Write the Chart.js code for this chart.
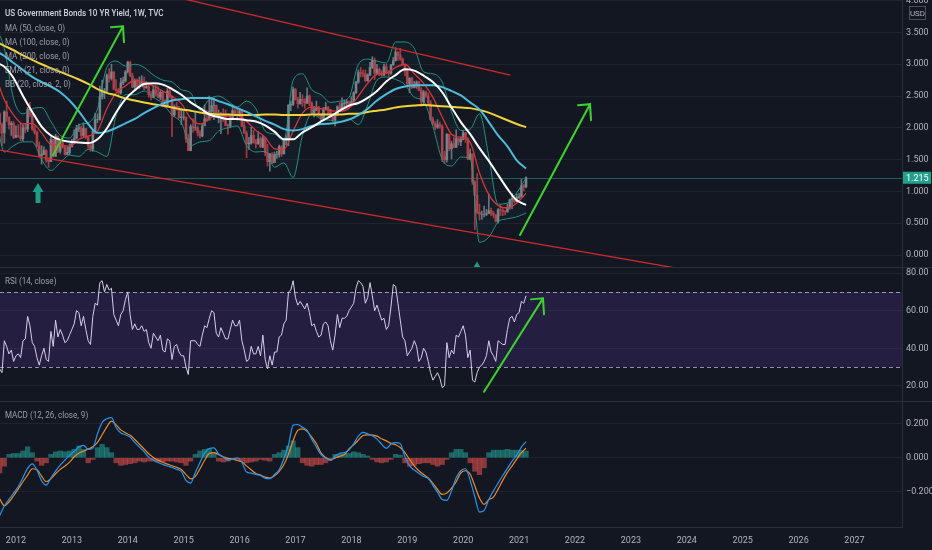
<!DOCTYPE html>
<html>
<head>
<meta charset="utf-8">
<script src="https://cdn.jsdelivr.net/npm/chart.js@4.4.1/dist/chart.umd.min.js"></script>
<style>
  html, body { margin: 0; padding: 0; background: #131722; }
  #wrap { width: 932px; height: 550px; }
</style>
</head>
<body>
<div id="wrap"><canvas id="chartYield" width="932" height="550"></canvas></div>
<script>
// semi-monthly candles, first one mid-Sep 2011
const firstBar = 2011.708;
const halfMonth = 1 / 24;
const prevClose = 2.22;
const closes = [
  2.05, 1.92, 2.25, 2.17, 2.05, 2.07, 1.85, 1.88,
  1.87, 1.83, 2.00, 1.98, 2.29, 2.21, 1.98, 1.93, 1.72, 1.56, 1.58, 1.64, 1.49, 1.47, 1.82, 1.55, 1.87, 1.63, 1.77, 1.69, 1.58, 1.61, 1.70, 1.76,
  1.84, 1.99, 2.00, 1.88, 1.99, 1.85, 1.72, 1.67, 1.95, 2.13, 2.13, 2.49, 2.58, 2.58, 2.83, 2.78, 2.88, 2.61, 2.58, 2.55, 2.71, 2.74, 2.88, 3.03,
  2.82, 2.64, 2.74, 2.65, 2.65, 2.72, 2.63, 2.65, 2.52, 2.48, 2.60, 2.53, 2.48, 2.56, 2.34, 2.34, 2.58, 2.49, 2.20, 2.34, 2.32, 2.16, 2.17, 2.17,
  1.83, 1.64, 2.02, 2.00, 2.00, 1.92, 1.87, 2.03, 2.14, 2.12, 2.26, 2.35, 2.35, 2.18, 2.20, 2.21, 2.13, 2.04, 2.03, 2.14, 2.27, 2.21, 2.20, 2.27,
  2.03, 1.92, 1.75, 1.76, 1.88, 1.77, 1.75, 1.83, 1.70, 1.84, 1.61, 1.47, 1.59, 1.45, 1.58, 1.58, 1.70, 1.59, 1.80, 1.83, 2.36, 2.37, 2.60, 2.44,
  2.38, 2.45, 2.42, 2.39, 2.50, 2.39, 2.24, 2.28, 2.32, 2.20, 2.15, 2.30, 2.32, 2.29, 2.19, 2.12, 2.20, 2.33, 2.28, 2.38, 2.39, 2.41, 2.35, 2.41,
  2.55, 2.72, 2.87, 2.86, 2.85, 2.74, 2.83, 2.95, 3.06, 2.86, 2.92, 2.86, 2.83, 2.96, 2.87, 2.86, 2.99, 3.06, 3.19, 3.14, 3.08, 2.99, 2.89, 2.69,
  2.78, 2.63, 2.66, 2.72, 2.59, 2.41, 2.56, 2.50, 2.39, 2.13, 2.07, 2.01, 2.05, 2.02, 1.55, 1.50, 1.90, 1.67, 1.75, 1.69, 1.83, 1.78, 1.82, 1.92,
  1.84, 1.51, 1.59, 1.15, 0.94, 0.67, 0.64, 0.64, 0.64, 0.65, 0.70, 0.66, 0.63, 0.53, 0.71, 0.70, 0.69, 0.68, 0.75, 0.87, 0.89, 0.84, 0.90, 0.92,
  1.09, 1.07, 1.215
];
const highs = [
  2.24, 2.08, 2.27, 2.42, 2.17, 2.10, 2.10, 2.03,
  2.05, 2.08, 2.05, 2.07, 2.32, 2.40, 2.27, 2.03, 1.95, 1.78, 1.72, 1.70, 1.66, 1.53, 1.86, 1.82, 1.90, 1.87, 1.79, 1.86, 1.72, 1.70, 1.75, 1.82,
  1.97, 2.04, 2.06, 2.03, 2.08, 1.99, 1.87, 1.74, 1.97, 2.23, 2.22, 2.66, 2.75, 2.62, 2.85, 2.93, 3.00, 2.88, 2.76, 2.62, 2.78, 2.80, 2.90, 3.05,
  3.05, 2.86, 2.77, 2.77, 2.80, 2.82, 2.80, 2.73, 2.68, 2.57, 2.66, 2.67, 2.65, 2.59, 2.58, 2.44, 2.62, 2.64, 2.50, 2.36, 2.40, 2.34, 2.31, 2.28,
  2.17, 1.90, 2.05, 2.14, 2.25, 2.03, 1.96, 2.07, 2.36, 2.27, 2.50, 2.48, 2.47, 2.36, 2.28, 2.24, 2.30, 2.28, 2.06, 2.21, 2.36, 2.30, 2.32, 2.31,
  2.27, 2.10, 1.95, 1.85, 2.01, 1.96, 1.82, 1.94, 1.86, 1.88, 1.85, 1.74, 1.60, 1.61, 1.62, 1.63, 1.73, 1.72, 1.82, 1.88, 2.36, 2.42, 2.64, 2.62,
  2.48, 2.56, 2.52, 2.46, 2.63, 2.52, 2.41, 2.34, 2.42, 2.34, 2.22, 2.32, 2.40, 2.34, 2.29, 2.22, 2.23, 2.35, 2.40, 2.47, 2.44, 2.44, 2.42, 2.49,
  2.57, 2.73, 2.91, 2.95, 2.91, 2.91, 2.85, 3.03, 3.12, 3.10, 3.00, 2.94, 2.90, 3.00, 3.00, 2.90, 3.00, 3.11, 3.26, 3.20, 3.25, 3.10, 3.00, 2.90,
  2.79, 2.80, 2.73, 2.74, 2.73, 2.63, 2.59, 2.58, 2.55, 2.43, 2.17, 2.10, 2.13, 2.09, 2.05, 1.63, 1.91, 1.90, 1.79, 1.86, 1.97, 1.84, 1.86, 1.95,
  1.93, 1.84, 1.67, 1.59, 1.17, 1.28, 0.80, 0.69, 0.77, 0.72, 0.96, 0.74, 0.69, 0.64, 0.73, 0.79, 0.73, 0.70, 0.80, 0.88, 0.97, 0.91, 0.96, 0.97,
  1.19, 1.11, 1.23
];
const lows = [
  1.91, 1.72, 1.76, 2.10, 1.98, 1.88, 1.83, 1.85,
  1.85, 1.80, 1.80, 1.92, 1.94, 2.17, 1.96, 1.90, 1.70, 1.54, 1.43, 1.58, 1.46, 1.38, 1.47, 1.54, 1.55, 1.61, 1.60, 1.68, 1.57, 1.58, 1.58, 1.70,
  1.82, 1.82, 1.94, 1.85, 1.86, 1.83, 1.68, 1.63, 1.63, 1.93, 2.08, 2.12, 2.45, 2.46, 2.56, 2.72, 2.75, 2.60, 2.58, 2.48, 2.53, 2.68, 2.72, 2.86,
  2.80, 2.63, 2.58, 2.63, 2.62, 2.65, 2.60, 2.62, 2.48, 2.44, 2.47, 2.50, 2.47, 2.44, 2.33, 2.32, 2.33, 2.47, 1.86, 2.18, 2.28, 2.15, 2.05, 2.12,
  1.77, 1.64, 1.64, 1.93, 1.96, 1.87, 1.84, 1.86, 2.10, 2.10, 2.25, 2.24, 2.13, 2.16, 2.08, 1.91, 2.10, 2.03, 1.90, 2.00, 2.13, 2.20, 2.12, 2.17,
  2.02, 1.91, 1.53, 1.66, 1.74, 1.76, 1.68, 1.74, 1.69, 1.69, 1.56, 1.40, 1.32, 1.44, 1.48, 1.52, 1.54, 1.55, 1.59, 1.73, 1.72, 2.27, 2.35, 2.44,
  2.31, 2.37, 2.34, 2.31, 2.38, 2.35, 2.21, 2.17, 2.27, 2.18, 2.10, 2.12, 2.28, 2.22, 2.17, 2.10, 2.03, 2.19, 2.27, 2.28, 2.31, 2.31, 2.33, 2.34,
  2.40, 2.54, 2.70, 2.80, 2.80, 2.73, 2.73, 2.82, 2.93, 2.76, 2.85, 2.82, 2.81, 2.82, 2.85, 2.81, 2.84, 2.98, 3.05, 3.06, 3.06, 2.99, 2.82, 2.68,
  2.55, 2.62, 2.63, 2.62, 2.58, 2.34, 2.38, 2.48, 2.37, 2.12, 2.05, 1.97, 1.99, 1.99, 1.47, 1.44, 1.46, 1.64, 1.51, 1.69, 1.70, 1.73, 1.72, 1.81,
  1.77, 1.50, 1.50, 1.11, 0.40, 0.65, 0.55, 0.56, 0.60, 0.62, 0.65, 0.62, 0.59, 0.52, 0.50, 0.62, 0.62, 0.63, 0.67, 0.72, 0.73, 0.82, 0.84, 0.89,
  0.91, 1.01, 1.06
];
const rsi14 = [
  29, 27, 44, 41, 37, 39, 33, 36,
  37, 35, 44, 45, 57, 52, 43, 41, 35, 31, 36, 40, 34, 33, 49, 41, 55, 46, 50, 47, 43, 44, 47, 50,
  53, 60, 59, 52, 57, 50, 44, 42, 57, 64, 63, 75, 76, 70, 74, 71, 72, 58, 55, 52, 58, 60, 66, 70,
  58, 50, 53, 50, 50, 52, 49, 50, 43, 40, 48, 46, 44, 47, 39, 38, 45, 44, 34, 41, 42, 38, 36, 36,
  30, 26, 44, 44, 44, 42, 41, 47, 52, 51, 56, 60, 59, 48, 46, 51, 48, 45, 45, 50, 55, 52, 52, 55,
  44, 39, 33, 34, 41, 37, 37, 41, 36, 47, 34, 29, 36, 31, 38, 38, 46, 47, 53, 55, 70, 71, 76, 67,
  63, 65, 63, 61, 64, 59, 52, 53, 49, 46, 47, 53, 54, 52, 44, 39, 47, 58, 51, 56, 56, 57, 60, 62,
  64, 72, 76, 75, 73, 64, 67, 75, 68, 60, 63, 59, 55, 56, 50, 52, 62, 74, 73, 64, 55, 46, 44, 36,
  38, 40, 44, 41, 33, 35, 40, 38, 33, 27, 23, 25, 27, 24, 19, 20, 43, 35, 39, 37, 47, 46, 49, 52,
  47, 35, 39, 23, 22, 27, 30, 31, 33, 36, 44, 38, 36, 33, 44, 43, 42, 42, 50, 56, 57, 54, 58, 59,
  65, 64, 68
];

// moving averages and bands, every two months from mid-Aug 2011
const smoothStart = 2011.625;
const twoMonths = 1 / 6;
const ma50 = [3.03, 2.96, 2.78, 2.50, 2.25, 2.02, 1.88, 1.81, 1.78, 1.77, 1.76, 1.82, 1.99, 2.24, 2.45, 2.59, 2.69, 2.70, 2.68, 2.61,
  2.52, 2.40, 2.31, 2.21, 2.17, 2.14, 2.14, 2.12, 2.10, 2.04, 1.94, 1.82, 1.82, 1.93, 2.01, 2.10, 2.18, 2.27, 2.35, 2.39,
  2.47, 2.58, 2.73, 2.83, 2.92, 2.90, 2.82, 2.72, 2.56, 2.32, 2.09, 1.90, 1.68, 1.48, 1.26, 1.04, 0.86, 0.79];
const ma100 = [3.22, 3.13, 3.02, 2.91, 2.80, 2.72, 2.65, 2.56, 2.43, 2.26, 2.06, 1.92, 1.94, 2.00, 2.07, 2.14, 2.23, 2.31, 2.38, 2.43,
  2.45, 2.47, 2.47, 2.47, 2.42, 2.37, 2.31, 2.25, 2.18, 2.11, 2.05, 1.98, 1.96, 1.98, 2.03, 2.06, 2.07, 2.09, 2.13, 2.20,
  2.30, 2.43, 2.53, 2.61, 2.65, 2.67, 2.67, 2.67, 2.64, 2.58, 2.51, 2.40, 2.29, 2.09, 1.88, 1.71, 1.49, 1.36];
const ma200 = [3.36, 3.29, 3.22, 3.14, 3.07, 3.00, 2.94, 2.88, 2.82, 2.76, 2.69, 2.61, 2.55, 2.51, 2.46, 2.43, 2.40, 2.37, 2.35, 2.32,
  2.29, 2.27, 2.24, 2.22, 2.21, 2.21, 2.20, 2.20, 2.20, 2.21, 2.21, 2.20, 2.20, 2.20, 2.21, 2.21, 2.21, 2.21, 2.22, 2.22,
  2.25, 2.27, 2.29, 2.32, 2.34, 2.35, 2.36, 2.35, 2.34, 2.33, 2.32, 2.31, 2.28, 2.24, 2.18, 2.12, 2.06, 2.01];
const ema21 = [2.85, 2.44, 2.20, 2.06, 2.07, 1.92, 1.74, 1.73, 1.71, 1.82, 1.87, 1.95, 2.30, 2.55, 2.66, 2.75, 2.72, 2.66, 2.58, 2.50,
  2.38, 2.15, 2.06, 2.14, 2.22, 2.18, 2.20, 2.10, 1.96, 1.85, 1.67, 1.66, 1.95, 2.23, 2.33, 2.30, 2.27, 2.26, 2.31, 2.50,
  2.70, 2.84, 2.86, 2.95, 3.00, 2.85, 2.70, 2.48, 2.17, 1.90, 1.85, 1.77, 1.29, 0.95, 0.78, 0.74, 0.82, 0.97];
const bbUpper = [3.60, 3.25, 2.45, 2.22, 2.30, 2.32, 2.10, 1.88, 1.84, 2.05, 2.08, 2.30, 2.95, 3.05, 2.97, 3.00, 2.95, 2.83, 2.75, 2.72,
  2.60, 2.55, 2.28, 2.45, 2.50, 2.42, 2.33, 2.42, 2.30, 1.95, 1.90, 1.80, 2.75, 2.85, 2.60, 2.52, 2.40, 2.42, 2.48, 3.00,
  3.08, 3.05, 3.02, 3.35, 3.35, 3.25, 2.88, 2.85, 2.72, 2.25, 1.96, 1.98, 2.22, 1.55, 0.80, 0.82, 0.98, 1.21];
const bbLower = [2.30, 1.62, 1.72, 1.78, 1.78, 1.50, 1.33, 1.45, 1.57, 1.55, 1.66, 1.62, 1.55, 2.20, 2.52, 2.52, 2.58, 2.48, 2.38, 2.20,
  2.08, 1.72, 1.78, 1.80, 1.95, 2.00, 2.03, 1.72, 1.62, 1.63, 1.38, 1.45, 1.22, 1.88, 2.22, 2.14, 2.12, 2.10, 2.14, 2.05,
  2.36, 2.75, 2.80, 2.76, 2.68, 2.48, 2.42, 2.02, 1.50, 1.40, 1.54, 1.52, 0.20, 0.28, 0.52, 0.57, 0.60, 0.66];

// MACD, monthly from mid-Sep 2011
const macdStart = 2011.708;
const oneMonth = 1 / 12;
const macdLine = [-0.343, -0.286, -0.247, -0.209, -0.170, -0.118, -0.063, -0.036, -0.073, -0.136,
  -0.162, -0.120, -0.079, -0.044, -0.014, 0.014, 0.039, 0.063, 0.073, 0.049,
  0.057, 0.142, 0.209, 0.231, 0.238, 0.179, 0.146, 0.136, 0.122, 0.091,
  0.063, 0.036, 0.004, -0.014, -0.028, -0.039, -0.049, -0.057, -0.069, -0.081,
  -0.134, -0.150, -0.087, -0.028, 0.027, 0.055, 0.059, 0.022, 0.004, -0.014,
  -0.008, 0.000, -0.028, -0.085, -0.091, -0.099, -0.105, -0.122, -0.124, -0.099,
  -0.071, -0.006, 0.077, 0.193, 0.197, 0.181, 0.162, 0.110, 0.063, 0.018,
  -0.002, -0.016, 0.010, 0.026, 0.031, 0.047, 0.083, 0.128, 0.150, 0.142,
  0.130, 0.110, 0.081, 0.055, 0.081, 0.089, 0.083, 0.006, -0.048, -0.073,
  -0.093, -0.111, -0.122, -0.164, -0.205, -0.247, -0.252, -0.196, -0.118, -0.077,
  -0.065, -0.134, -0.231, -0.322, -0.312, -0.247, -0.196, -0.150, -0.105, -0.063,
  -0.020, 0.016, 0.063, 0.095];
const signalLine = [-0.243, -0.284, -0.262, -0.225, -0.184, -0.142, -0.103, -0.065, -0.071, -0.109,
  -0.142, -0.124, -0.095, -0.069, -0.049, -0.026, 0.006, 0.027, 0.039, 0.051,
  0.065, 0.091, 0.136, 0.183, 0.217, 0.195, 0.165, 0.148, 0.133, 0.108,
  0.080, 0.052, 0.024, 0.002, -0.014, -0.027, -0.038, -0.047, -0.057, -0.070,
  -0.100, -0.125, -0.110, -0.065, -0.015, 0.025, 0.030, 0.018, 0.006, -0.004,
  -0.008, -0.016, -0.024, -0.048, -0.071, -0.093, -0.103, -0.115, -0.120, -0.107,
  -0.081, -0.041, 0.020, 0.102, 0.162, 0.171, 0.156, 0.122, 0.083, 0.027,
  0.002, -0.012, -0.002, 0.008, 0.020, 0.053, 0.077, 0.104, 0.132, 0.136,
  0.134, 0.128, 0.112, 0.100, 0.085, 0.077, 0.061, 0.030, -0.010, -0.048,
  -0.077, -0.099, -0.120, -0.152, -0.188, -0.217, -0.209, -0.180, -0.142, -0.089,
  -0.077, -0.097, -0.166, -0.239, -0.276, -0.249, -0.233, -0.186, -0.134, -0.087,
  -0.048, -0.008, 0.030, 0.057];
const macdHist = [-0.09, -0.05, 0.02, 0.025, 0.025, 0.04, 0.065, 0.03, -0.02, -0.045,
  -0.03, 0.02, 0.035, 0.04, 0.035, 0.04, 0.05, 0.07, 0.05, -0.03,
  -0.01, 0.06, 0.08, 0.06, 0.03, -0.03, -0.045, -0.04, -0.035, -0.03,
  -0.02, -0.025, -0.02, -0.02, -0.025, -0.025, -0.02, -0.02, -0.025, -0.03,
  -0.045, -0.02, 0.02, 0.04, 0.05, 0.055, 0.03, -0.02, -0.025, -0.02,
  -0.01, -0.015, -0.02, -0.03, -0.025, -0.02, -0.01, -0.015, -0.02, 0.02,
  0.03, 0.045, 0.07, 0.1, 0.06, -0.03, -0.045, -0.05, -0.04, -0.04,
  -0.03, -0.015, 0.02, 0.02, 0.025, 0.025, 0.035, 0.03, 0.02, 0.01,
  -0.01, -0.025, -0.03, -0.025, -0.01, 0.02, 0.015, -0.03, -0.05, -0.045,
  -0.035, -0.03, -0.03, -0.04, -0.05, -0.04, -0.01, 0.03, 0.05, 0.05,
  0.03, -0.03, -0.08, -0.1, -0.06, 0.03, 0.045, 0.045, 0.045, 0.05,
  0.045, 0.045, 0.045, 0.04];

const yearTicks = [2012, 2013, 2014, 2015, 2016, 2017, 2018, 2019, 2020, 2021, 2022, 2023, 2024, 2025, 2026, 2027];
const priceTicks = [0, 0.5, 1, 1.5, 2, 2.5, 3, 3.5, 4];
const rsiTicks = [20, 40, 60, 80];
const macdTicks = [-0.2, 0, 0.2];
const rsiBand = [30, 70];

// drawings on the chart, in (year, value)
const upperChannel = [[2014.0, 4.233], [2020.84, 2.827]];
const lowerChannel = [[2011.714, 1.649], [2024.5, -0.311]];
const greenArrows = [
  { pane: 'price', from: [2012.662, 1.571], to: [2013.914, 3.597] },
  { pane: 'price', from: [2021.016, 0.314], to: [2022.269, 2.372] },
  { pane: 'rsi', from: [2020.373, 16.8], to: [2021.428, 66.6] }
];
const lowMarker = [2012.394, 0.817];
const lowTriangle = [2020.247, -0.157];

const legendLines = ['MA (50, close, 0)', 'MA (100, close, 0)', 'MA (200, close, 0)', 'EMA (21, close, 0)', 'BB (20, close, 2, 0)'];

const opens = closes.map((c, i) => i ? closes[i - 1] : prevClose);
const lastClose = closes[closes.length - 1];
const upColor = 'rgba(135, 137, 145, 0.8)';
const downColor = 'rgba(190, 64, 72, 0.85)';
const candleColor = c => closes[c.dataIndex] >= opens[c.dataIndex] ? upColor : downColor;

const onGrid = (start, step) => (v, i) => ({ x: start + i * step, y: v });

Chart.defaults.font.family = 'Roboto, "DejaVu Sans", sans-serif';
Chart.defaults.color = '#b2b5be';

const fitRight = s => { s.width = 30; s.paddingTop = 0; s.paddingBottom = 0; };
const gridColor = 'rgba(42, 46, 57, 0.55)';

function condensed(ctx, txt, x, y) {
  ctx.save();
  ctx.translate(x, y);
  ctx.scale(0.85, 1);
  ctx.fillText(txt, 0, 0);
  ctx.restore();
}

const panes = {
  id: 'panes',
  beforeDatasetsDraw(chart) {
    const { ctx, chartArea: a, scales } = chart;
    const p = scales.price, r = scales.rsi;
    ctx.save();
    const yTop = r.getPixelForValue(rsiBand[1]);
    const yBot = r.getPixelForValue(rsiBand[0]);
    ctx.fillStyle = 'rgba(103, 58, 183, 0.2)';
    ctx.fillRect(a.left, yTop, a.right - a.left, yBot - yTop);
    ctx.setLineDash([4, 3]);
    ctx.strokeStyle = 'rgba(205, 198, 228, 0.7)';
    ctx.lineWidth = 1;
    [yTop, yBot].forEach(y => {
      ctx.beginPath();
      ctx.moveTo(a.left, Math.round(y) + 0.5);
      ctx.lineTo(a.right, Math.round(y) + 0.5);
      ctx.stroke();
    });
    ctx.setLineDash([]);
    const yl = Math.round(p.getPixelForValue(lastClose)) + 0.5;
    ctx.strokeStyle = 'rgba(38, 166, 154, 0.5)';
    ctx.beginPath();
    ctx.moveTo(a.left, yl);
    ctx.lineTo(a.right, yl);
    ctx.stroke();
    ctx.strokeStyle = '#2a2e39';
    [p.bottom, r.bottom].forEach(y => {
      ctx.beginPath();
      ctx.moveTo(0, Math.round(y) + 0.5);
      ctx.lineTo(chart.width, Math.round(y) + 0.5);
      ctx.stroke();
    });
    ctx.restore();
  },
  afterDatasetsDraw(chart) {
    const { ctx, chartArea: a, scales } = chart;
    const p = scales.price;
    const px = (pane, pt) => [scales.x.getPixelForValue(pt[0]), scales[pane].getPixelForValue(pt[1])];
    ctx.save();
    ctx.beginPath();
    ctx.rect(a.left, p.top, a.right - a.left, p.bottom - p.top);
    ctx.clip();
    ctx.strokeStyle = '#d02a2a';
    ctx.lineWidth = 1.3;
    [upperChannel, lowerChannel].forEach(line => {
      const s = px('price', line[0]), e = px('price', line[1]);
      ctx.beginPath();
      ctx.moveTo(s[0], s[1]);
      ctx.lineTo(e[0], e[1]);
      ctx.stroke();
    });
    // teal marker arrow under the 2012 low
    const m = px('price', lowMarker);
    ctx.fillStyle = '#1e9e88';
    ctx.beginPath();
    ctx.moveTo(m[0], m[1] - 20);
    ctx.lineTo(m[0] + 5.5, m[1] - 11);
    ctx.lineTo(m[0] + 2.5, m[1] - 11);
    ctx.lineTo(m[0] + 2.5, m[1]);
    ctx.lineTo(m[0] - 2.5, m[1]);
    ctx.lineTo(m[0] - 2.5, m[1] - 11);
    ctx.lineTo(m[0] - 5.5, m[1] - 11);
    ctx.closePath();
    ctx.fill();
    const t = px('price', lowTriangle);
    ctx.beginPath();
    ctx.moveTo(t[0], t[1] - 3.5);
    ctx.lineTo(t[0] + 3.5, t[1] + 2.5);
    ctx.lineTo(t[0] - 3.5, t[1] + 2.5);
    ctx.closePath();
    ctx.fill();
    ctx.restore();

    ctx.save();
    ctx.strokeStyle = '#3ad42c';
    ctx.lineWidth = 2;
    ctx.lineCap = 'round';
    greenArrows.forEach(ar => {
      const s = px(ar.pane, ar.from), e = px(ar.pane, ar.to);
      ctx.beginPath();
      ctx.moveTo(s[0], s[1]);
      ctx.lineTo(e[0], e[1]);
      ctx.moveTo(e[0] - 12, e[1] + 1);
      ctx.lineTo(e[0], e[1]);
      ctx.lineTo(e[0] + 1, e[1] + 16);
      ctx.stroke();
    });
    ctx.restore();
  },
  afterDraw(chart) {
    const { ctx, chartArea: a, scales } = chart;
    ctx.save();
    ctx.textBaseline = 'middle';
    ctx.font = '500 9.5px Roboto, "DejaVu Sans", sans-serif';
    ctx.fillStyle = '#d1d4dc';
    condensed(ctx, 'US Government Bonds 10 YR Yield, 1W, TVC', 5, 14);
    ctx.font = '9.5px Roboto, "DejaVu Sans", sans-serif';
    ctx.fillStyle = 'rgba(178, 181, 190, 0.85)';
    legendLines.forEach((txt, i) => condensed(ctx, txt, 5, 28.3 + i * 14.2));
    condensed(ctx, 'RSI (14, close)', 5, scales.rsi.top + 15);
    condensed(ctx, 'MACD (12, 26, close, 9)', 5, scales.macd.top + 15);

    // last value tag on the price axis
    const yl = scales.price.getPixelForValue(lastClose);
    ctx.font = '9px Roboto, "DejaVu Sans", sans-serif';
    ctx.fillStyle = '#23a08d';
    ctx.fillRect(a.right + 1, yl - 6, 28, 12);
    ctx.fillStyle = '#ffffff';
    ctx.fillText(lastClose.toFixed(3), a.right + 4, yl + 0.5);

    // currency box
    ctx.strokeStyle = '#4a4e59';
    ctx.lineWidth = 1;
    ctx.strokeRect(a.right + 7.5, 6.5, 16, 13);
    ctx.font = '8px Roboto, "DejaVu Sans", sans-serif';
    ctx.fillStyle = '#b2b5be';
    ctx.textAlign = 'center';
    ctx.fillText('USD', a.right + 15.5, 13.5);
    ctx.restore();
  }
};

const ctx = document.getElementById('chartYield');

new Chart(ctx, {
  type: 'bar',
  data: {
    datasets: [
      {
        type: 'line', label: 'MA 50', data: ma50.map(onGrid(smoothStart, twoMonths)), yAxisID: 'price',
        borderColor: '#ffffff', borderWidth: 2, pointRadius: 0, cubicInterpolationMode: 'monotone', order: 1
      },
      {
        type: 'line', label: 'MA 100', data: ma100.map(onGrid(smoothStart, twoMonths)), yAxisID: 'price',
        borderColor: '#4bbcdb', borderWidth: 2, pointRadius: 0, cubicInterpolationMode: 'monotone', order: 2
      },
      {
        type: 'line', label: 'MA 200', data: ma200.map(onGrid(smoothStart, twoMonths)), yAxisID: 'price',
        borderColor: '#f2d23a', borderWidth: 2, pointRadius: 0, cubicInterpolationMode: 'monotone', order: 3
      },
      {
        type: 'line', label: 'EMA 21', data: ema21.map(onGrid(smoothStart, twoMonths)), yAxisID: 'price',
        borderColor: '#d9363a', borderWidth: 1.3, pointRadius: 0, cubicInterpolationMode: 'monotone', order: 4
      },
      {
        type: 'line', label: 'BB upper', data: bbUpper.map(onGrid(smoothStart, twoMonths)), yAxisID: 'price',
        borderColor: 'rgba(34, 160, 140, 0.9)', borderWidth: 1, pointRadius: 0, cubicInterpolationMode: 'monotone',
        fill: '+1', backgroundColor: 'rgba(38, 166, 154, 0.05)', order: 5
      },
      {
        type: 'line', label: 'BB lower', data: bbLower.map(onGrid(smoothStart, twoMonths)), yAxisID: 'price',
        borderColor: 'rgba(34, 160, 140, 0.9)', borderWidth: 1, pointRadius: 0, cubicInterpolationMode: 'monotone', order: 6
      },
      {
        label: 'wick', data: closes.map((c, i) => ({ x: firstBar + i * halfMonth, y: [lows[i], highs[i]] })), yAxisID: 'price',
        backgroundColor: candleColor, barThickness: 1, grouped: false, order: 9
      },
      {
        label: 'body', data: closes.map((c, i) => ({ x: firstBar + i * halfMonth, y: [opens[i], c] })), yAxisID: 'price',
        backgroundColor: candleColor, barThickness: 2, grouped: false, order: 8
      },
      {
        type: 'line', label: 'RSI', data: rsi14.map(onGrid(firstBar, halfMonth)), yAxisID: 'rsi',
        borderColor: '#d8cdea', borderWidth: 1, pointRadius: 0, tension: 0, order: 1
      },
      {
        label: 'Histogram', data: macdHist.map(onGrid(macdStart, oneMonth)), yAxisID: 'macd',
        backgroundColor: c => c.raw.y >= 0 ? 'rgba(38, 166, 154, 0.55)' : 'rgba(239, 83, 80, 0.55)',
        barThickness: 4.6, grouped: false, order: 7
      },
      {
        type: 'line', label: 'Signal', data: signalLine.map(onGrid(macdStart, oneMonth)), yAxisID: 'macd',
        borderColor: '#f08a24', borderWidth: 1.2, pointRadius: 0, cubicInterpolationMode: 'monotone', order: 2
      },
      {
        type: 'line', label: 'MACD', data: macdLine.map(onGrid(macdStart, oneMonth)), yAxisID: 'macd',
        borderColor: '#2196f3', borderWidth: 1.2, pointRadius: 0, cubicInterpolationMode: 'monotone', order: 1
      }
    ]
  },
  plugins: [panes],
  options: {
    responsive: false,
    animation: false,
    events: [],
    layout: { padding: 0 },
    plugins: {
      legend: { display: false },
      tooltip: { enabled: false }
    },
    scales: {
      x: {
        type: 'linear', min: 2011.714, max: 2027.85, offset: false,
        grid: { display: false },
        border: { display: true, color: '#2a2e39' },
        afterBuildTicks: s => { s.ticks = yearTicks.map(v => ({ value: v })); },
        afterFit: s => { s.height = 23; s.paddingLeft = 0; s.paddingRight = 0; },
        ticks: { autoSkip: false, maxRotation: 0, padding: 0, font: { size: 9 }, callback: v => String(v) }
      },
      price: {
        type: 'linear', position: 'right', stack: 'panes', stackWeight: 267, min: -0.188, max: 4.01,
        grid: { color: gridColor, drawTicks: false },
        border: { color: '#2a2e39' },
        afterBuildTicks: s => { s.ticks = priceTicks.map(v => ({ value: v })); },
        afterFit: fitRight,
        ticks: { padding: 4, font: { size: 9 }, callback: v => v.toFixed(3) }
      },
      rsi: {
        type: 'linear', position: 'right', stack: 'panes', stackWeight: 134, min: 11.87, max: 83.33,
        grid: { color: gridColor, drawTicks: false },
        border: { color: '#2a2e39' },
        afterBuildTicks: s => { s.ticks = rsiTicks.map(v => ({ value: v })); },
        afterFit: fitRight,
        ticks: { padding: 4, font: { size: 9 }, callback: v => v.toFixed(2) }
      },
      macd: {
        type: 'linear', position: 'right', stack: 'panes', stackWeight: 126, min: -0.41, max: 0.336,
        grid: { color: gridColor, drawTicks: false },
        border: { color: '#2a2e39' },
        afterBuildTicks: s => { s.ticks = macdTicks.map(v => ({ value: v })); },
        afterFit: fitRight,
        ticks: { padding: 4, font: { size: 9 }, callback: v => (v < 0 ? '\u2212' : '') + Math.abs(v).toFixed(3) }
      }
    }
  }
});
</script>
</body>
</html>
